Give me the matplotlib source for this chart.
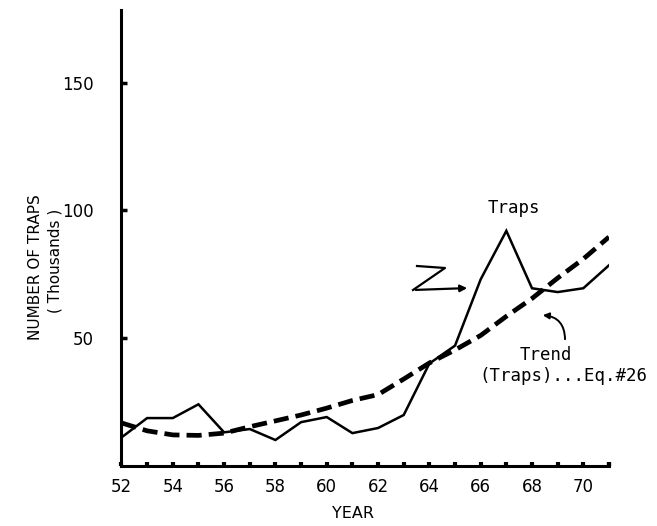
import numpy as np
import matplotlib.pyplot as plt
from matplotlib.patches import FancyArrowPatch

# ------------------------------------------
# DATA
# ------------------------------------------
years = [52, 53, 54, 55, 56, 57, 58, 59, 60, 61, 62, 63, 64, 65, 66, 67, 68, 69, 70, 71]
traps = [11, 18.6, 18.6, 24, 13, 14.3, 10, 17, 19, 12.7, 14.7, 19.8, 40, 47, 73, 92, 69.5, 68, 69.5, 78.5]
trend = [16.7, 13.6, 12.0, 11.8, 12.7, 15.2, 17.5, 19.8, 22.5, 25.5, 27.8, 33.9, 40.2, 45.3, 51,
         58.5, 65.5, 73.5, 81, 89.6]

x_labels = [52, 54, 56, 58, 60, 62, 64, 66, 68, 70]
y_ticks = [50, 100, 150]

plt.rcParams['font.family'] = ['DejaVu Sans']

fig = plt.figure(figsize=(6.57, 5.26), dpi=100)
ax = fig.add_axes([0.1849, 0.115, 0.742, 0.866])

ax.plot(years, traps, color='black', lw=1.8, solid_joinstyle='miter')
ax.plot(years, trend, color='black', lw=3.4, dashes=(3.2, 1.5))

ax.set_xlim(52, 71)
ax.set_ylim(0, 178.6)

for s in ['top', 'right']:
    ax.spines[s].set_visible(False)
for s in ['left', 'bottom']:
    ax.spines[s].set_linewidth(2.2)

ax.set_xticks(x_labels)
ax.set_xticks([y for y in years if y not in x_labels and y != 52] + [71], minor=True)
ax.set_xticklabels([str(v) for v in x_labels], fontsize=12, fontweight='medium')
ax.tick_params(axis='x', which='both', direction='in', length=3, width=3, pad=9)
ax.set_yticks(y_ticks)
ax.set_yticklabels([str(v) for v in y_ticks], fontsize=12, fontweight='medium')
ax.tick_params(axis='y', direction='in', length=4, width=2.5, pad=20)

fig.text(353 / 657, 1 - 514 / 526, 'YEAR', ha='center', va='center', fontsize=11.5,
         fontweight='medium')
fig.text(36 / 657, 1 - 267 / 526, 'NUMBER OF TRAPS', rotation=90, ha='center', va='center',
         fontsize=11)
fig.text(55 / 657, 1 - 261 / 526, '( Thousands )', rotation=90, ha='center', va='center',
         fontsize=11)

# annotations
fig.text(514 / 657, 1 - 208 / 526, 'Traps', ha='center', va='center', fontsize=12.5,
         family='DejaVu Sans Mono')
fig.text(546 / 657, 1 - 355 / 526, 'Trend', ha='center', va='center', fontsize=12.5,
         family='DejaVu Sans Mono')
fig.text(563 / 657, 1 - 376 / 526, '(Traps)...Eq.#26', ha='center', va='center', fontsize=12.5,
         family='DejaVu Sans Mono')

# Z-squiggle arrow pointing at the traps line
zx = np.array([417, 445, 413]) / 657
zy = 1 - np.array([266, 268, 290]) / 526
fig.add_artist(plt.Line2D(zx, zy, color='black', lw=1.6, transform=fig.transFigure))
fig.add_artist(FancyArrowPatch((413 / 657, 1 - 290 / 526), (470 / 657, 1 - 288 / 526),
                               transform=fig.transFigure, arrowstyle='-|>', mutation_scale=10,
                               color='black', lw=1.6))
# curved arrow pointing at the trend line
fig.add_artist(FancyArrowPatch((565 / 657, 1 - 342 / 526), (540 / 657, 1 - 315 / 526),
                               transform=fig.transFigure, arrowstyle='-|>', mutation_scale=9,
                               connectionstyle='arc3,rad=0.5', color='black', lw=1.4))

fig.savefig('out.png', dpi=100)
